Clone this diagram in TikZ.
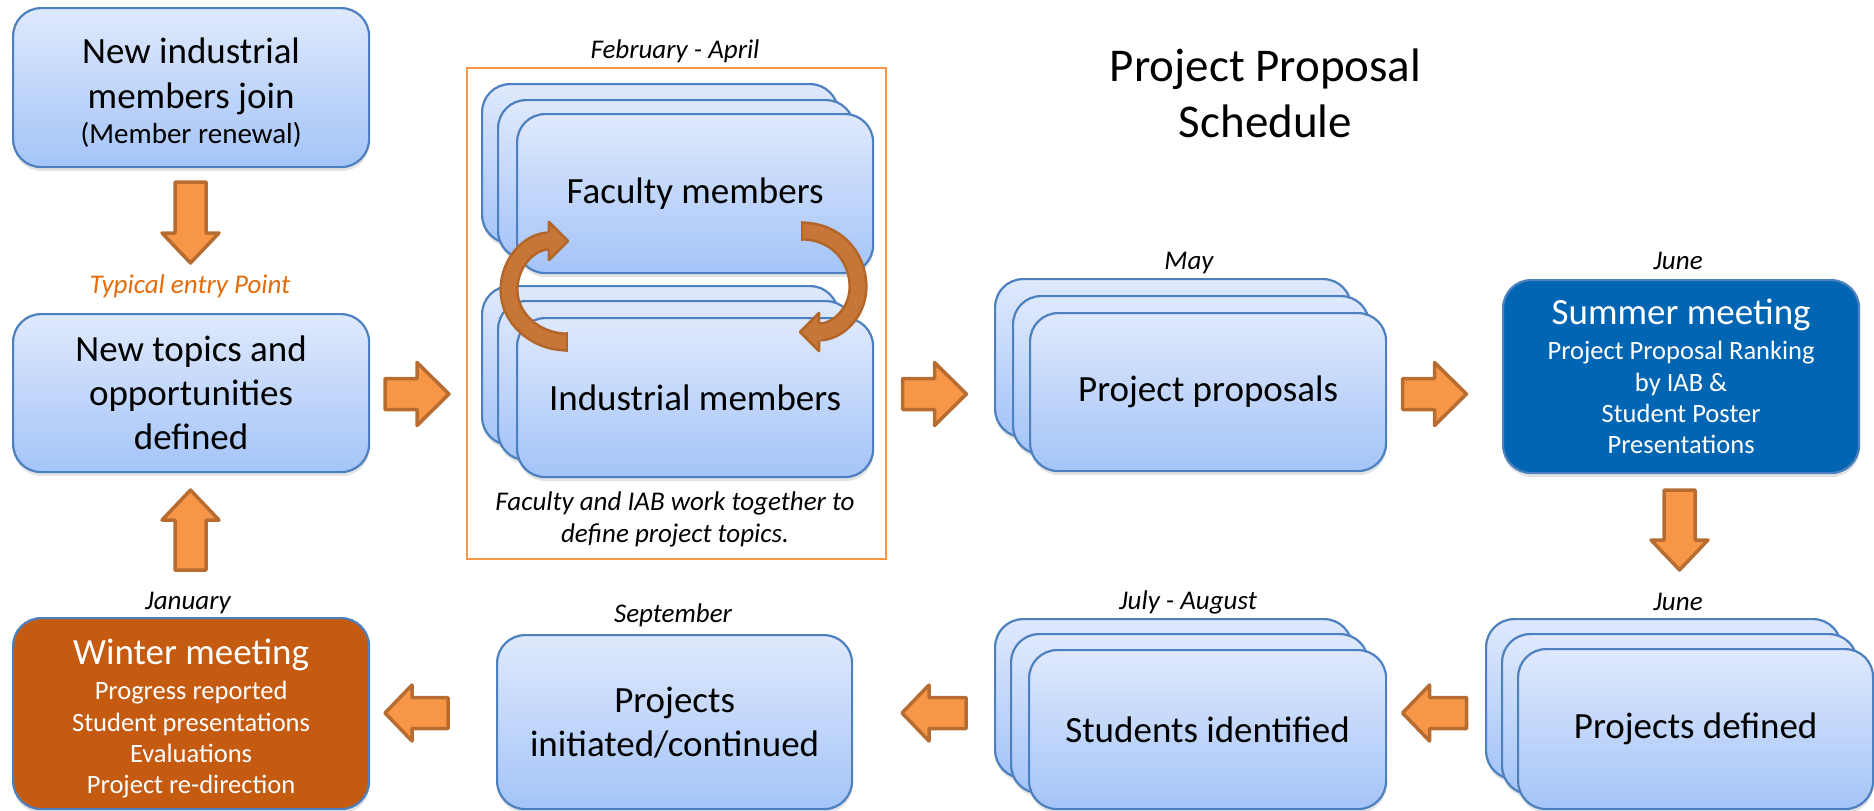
\documentclass[tikz,border=0pt]{standalone}
\usepackage{fontspec}
\setmainfont{Carlito}
\usetikzlibrary{shadows,calc}

\definecolor{boxtop}{RGB}{223,233,252}
\definecolor{boxbot}{RGB}{164,196,248}
\definecolor{boxline}{RGB}{77,128,190}
\definecolor{summerblue}{RGB}{0,101,178}
\definecolor{winterorange}{RGB}{197,90,17}
\definecolor{arrowfill}{RGB}{247,150,70}
\definecolor{arrowline}{RGB}{183,109,50}
\definecolor{curvefill}{RGB}{200,118,55}
\definecolor{curveline}{RGB}{178,102,42}
\definecolor{entryorange}{RGB}{228,108,10}
\definecolor{frameorange}{RGB}{247,150,70}

\newcommand{\bigtext}{\fontsize{37}{44}\selectfont}
\newcommand{\smalltext}{\fontsize{26.5}{31.3}\selectfont}
\newcommand{\tagtext}{\fontsize{27}{32}\selectfont\itshape}

\tikzset{
  cardbase/.style={draw=boxline, line width=2.2pt, rounded corners=28pt,
    anchor=north west, inner sep=0pt, align=center, font=\bigtext,
    drop shadow={shadow xshift=0.5pt, shadow yshift=-4pt, opacity=0.22}},
  card/.style={cardbase, top color=boxtop, bottom color=boxbot},
  monthtag/.style={font=\tagtext, inner sep=0pt},
  blockarrowstyle/.style={fill=arrowfill, draw=arrowline, line width=3.5pt, line join=round},
  pics/blockarrow/.style n args={3}{code={
    \draw[blockarrowstyle] ({-#1/2},-15.5) -- ({#1/2-#3},-15.5) -- ({#1/2-#3},{-#2/2})
      -- ({#1/2},0) -- ({#1/2-#3},{#2/2}) -- ({#1/2-#3},15.5) -- ({-#1/2},15.5) -- cycle;
  }},
  curveband/.style={draw=curveline, line width=2.6pt, double=curvefill, double distance=14pt},
  curvehead/.style={draw=curveline, line width=2.6pt, line join=round},
}

\begin{document}
\begin{tikzpicture}[x=1pt,y=-1pt]
\useasboundingbox (0,0) rectangle (1874,811);

% heading
\node[font=\fontsize{47}{56}\selectfont, align=center] (title) at (1265.5,93) {Project Proposal\\Schedule};

% left column
\node[card, minimum width=356pt, minimum height=159pt, font=\fontsize{29}{35}\selectfont] (join) at (12,7)
  {{\bigtext\rule{0pt}{36pt}New industrial}\\[10pt]{\bigtext members join}\\(Member renewal)};
\node[monthtag, text=entryorange, anchor=base] (entry) at (190,293) {Typical entry Point};
\node[card, minimum width=356pt, minimum height=158pt] (topics) at (12,313) {New topics and\\opportunities\\defined};
\node[monthtag, anchor=base] (jan) at (188,609) {January};
\node[cardbase, fill=winterorange, text=white, minimum width=356pt, minimum height=191pt, font=\smalltext] (winter) at (12,617)
  {{\bigtext\rule{0pt}{36pt}Winter meeting}\\[3.5pt]Progress reported\\Student presentations\\Evaluations\\Project re-direction};

% February - April group
\node[draw=frameorange, line width=2pt, anchor=north west, minimum width=419pt, minimum height=491pt, inner sep=0pt] (frame) at (466,67) {};
\node[monthtag, anchor=base] (feb) at (675,58) {February - April};
\node[card, minimum width=356pt, minimum height=159pt] (fac3) at (481,83) {};
\node[card, minimum width=356pt, minimum height=159pt] (fac2) at (497,99) {};
\node[card, minimum width=356pt, minimum height=159pt] (fac) at (516,113) {Faculty members};
\node[card, minimum width=356pt, minimum height=159pt] (ind3) at (481,285) {};
\node[card, minimum width=356pt, minimum height=159pt] (ind2) at (497,300) {};
\node[card, minimum width=356pt, minimum height=159pt] (ind) at (516,317) {Industrial members};
\node[font=\tagtext, align=center, inner sep=0pt] (teamnote) at (675,519.5) {Faculty and IAB work together to\\define project topics.};

% exchange arrows between faculty and industry
\draw[curveband] (567,342) .. controls (535,342) and (509,318) .. (509,290)
  .. controls (509,262) and (530,241) .. (549,241);
\fill[curvefill] (549,222) -- (568,241) -- (549,260) -- cycle;
\draw[curvehead] (549,232.7) -- (549,222) -- (568,241) -- (549,260) -- (549,249.3);
\draw[curvehead] (567,331.7) -- (567,352.3);

\draw[curveband] (802,231) .. controls (834,231) and (858,255) .. (858,287)
  .. controls (858,312) and (838,332) .. (819,332);
\fill[curvefill] (819,313) -- (800,332) -- (819,351) -- cycle;
\draw[curvehead] (819,323.7) -- (819,313) -- (800,332) -- (819,351) -- (819,340.3);
\draw[curvehead] (802,220.7) -- (802,241.3);

% proposals
\node[monthtag, anchor=base] (may) at (1189,269) {May};
\node[card, minimum width=356pt, minimum height=158pt] (prop3) at (994,278) {};
\node[card, minimum width=356pt, minimum height=158pt] (prop2) at (1012,295) {};
\node[card, minimum width=356pt, minimum height=158pt] (prop) at (1029,312) {Project proposals};

% summer meeting
\node[monthtag, anchor=base] (junetop) at (1678,269) {June};
\node[cardbase, fill=summerblue, text=white, minimum width=356pt, minimum height=193pt, font=\smalltext] (summer) at (1502,279)
  {{\bigtext Summer meeting}\\[3.5pt]Project Proposal Ranking\\by IAB \&\\Student Poster\\Presentations};

% bottom row
\node[monthtag, anchor=base] (junebot) at (1678,610) {June};
\node[card, minimum width=355pt, minimum height=160pt] (def3) at (1485,618) {};
\node[card, minimum width=355pt, minimum height=160pt] (def2) at (1501,633) {};
\node[card, minimum width=355pt, minimum height=160pt] (def) at (1517,648) {Projects defined};

\node[monthtag, anchor=base] (july) at (1188,609) {July - August};
\node[card, minimum width=357pt, minimum height=159pt] (stu3) at (994,618) {};
\node[card, minimum width=357pt, minimum height=159pt] (stu2) at (1010,633) {};
\node[card, minimum width=357pt, minimum height=159pt] (stu) at (1028,649) {Students identified};

\node[monthtag, anchor=base] (sep) at (673,622) {September};
\node[card, minimum width=355pt, minimum height=174pt] (init) at (496,634) {Projects\\initiated/continued};

% flow arrows
\pic[rotate=-90] at (190.5,222.5) {blockarrow={81}{57}{30}};
\pic[rotate=90] at (190.5,530) {blockarrow={80}{57}{30}};
\pic at (417,394) {blockarrow={64}{63}{32}};
\pic at (934.5,394) {blockarrow={64}{63}{32}};
\pic at (1434.5,394) {blockarrow={64}{63}{32}};
\pic[rotate=-90] at (1679.5,530) {blockarrow={80}{57}{30}};
\pic[rotate=180] at (1434.5,713) {blockarrow={64}{56}{27}};
\pic[rotate=180] at (934,713) {blockarrow={64}{56}{27}};
\pic[rotate=180] at (416.5,713) {blockarrow={63}{56}{27}};

\end{tikzpicture}
\end{document}
